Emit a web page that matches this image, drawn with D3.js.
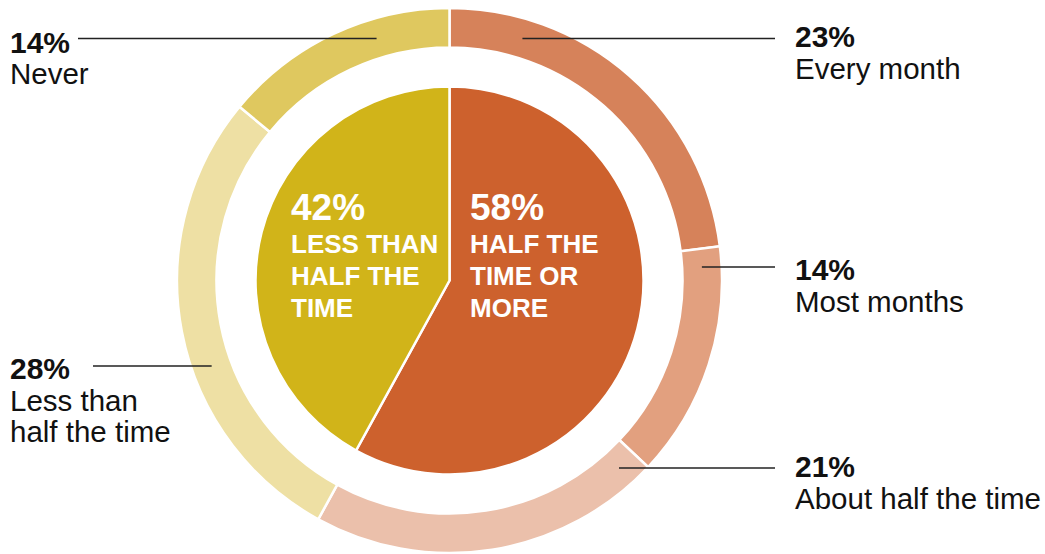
<!DOCTYPE html>
<html><head><meta charset="utf-8">
<script src="https://cdn.jsdelivr.net/npm/d3@7"></script>
<style>
html,body{margin:0;padding:0;background:#fff;}
svg{display:block;font-family:"Liberation Sans",Arial,Helvetica,sans-serif;}
</style></head>
<body><svg id="c" width="1045" height="554"></svg>
<script>
// ---- data ----
const outerCategories = ["Every month","Most months","About half the time","Less than half the time","Never"];
const outerValues = [23,14,21,28,14];
const outerLabelLines = [["Every month"],["Most months"],["About half the time"],["Less than","half the time"],["Never"]];
const innerCategories = ["Half the time or more","Less than half the time"];
const innerValues = [58,42];
const innerLabelLines = [["HALF THE","TIME OR","MORE"],["LESS THAN","HALF THE","TIME"]];

// ---- styles / layout ----
const outerColors = ["#D6825A","#E2A07F","#EBC0AB","#EEE0A4","#DFC85F"];
const innerColors = ["#CD612D","#D1B419"];
const cx = 449.5, cy = 280.5;
const rOuter = 272.5, rOuterIn = 233, rInner = 194;
const rMid = (rOuter + rOuterIn) / 2;
// label placement: side, leader y, leader end x (outer end), text x
const labelLayout = [
  {side:"right", y:38.5, lineEnd:775, tx:795, ty:47},
  {side:"right", y:267, lineEnd:775, tx:795, ty:280},
  {side:"right", y:468, lineEnd:775, tx:795, ty:477},
  {side:"left",  y:366, lineEnd:93,  tx:10,  ty:379},
  {side:"left",  y:38.5, lineEnd:78, tx:10,  ty:52.5}
];
const innerTextLayout = [{tx:470, ty:220},{tx:291, ty:220}];

const svg = d3.select("#c");
const g = svg.append("g").attr("transform", `translate(${cx},${cy})`);

const pie = d3.pie().sort(null).value(d => d);

const outerArc = d3.arc().innerRadius(rOuterIn).outerRadius(rOuter);
g.selectAll("path.outer").data(pie(outerValues)).join("path")
  .attr("class","outer")
  .attr("d", outerArc)
  .attr("fill", (d,i) => outerColors[i])
  .attr("stroke","#fff").attr("stroke-width",2.5);

const innerArc = d3.arc().innerRadius(0).outerRadius(rInner);
g.selectAll("path.inner").data(pie(innerValues)).join("path")
  .attr("class","inner")
  .attr("d", innerArc)
  .attr("fill", (d,i) => innerColors[i])
  .attr("stroke","#fff").attr("stroke-width",2.5);

// leader lines and outer labels
outerValues.forEach((v,i) => {
  const L = labelLayout[i];
  const dy = L.y - cy;
  const dx = Math.sqrt(rMid*rMid - dy*dy);
  const x0 = L.side === "right" ? cx + dx : cx - dx;
  svg.append("line")
    .attr("x1", x0).attr("y1", L.y).attr("x2", L.lineEnd).attr("y2", L.y)
    .attr("stroke","#222").attr("stroke-width",1.5);
  const t = svg.append("text").attr("x", L.tx).attr("y", L.ty).attr("fill","#111");
  t.append("tspan").attr("x", L.tx).attr("font-weight","bold").attr("font-size",30).text(v + "%");
  outerLabelLines[i].forEach(line => {
    t.append("tspan").attr("x", L.tx).attr("dy", 31.5).attr("font-size",29.5).text(line);
  });
});

// inner labels
innerValues.forEach((v,i) => {
  const L = innerTextLayout[i];
  const t = svg.append("text").attr("x", L.tx).attr("y", L.ty).attr("fill","#fff").attr("font-weight","bold");
  t.append("tspan").attr("x", L.tx).attr("font-size",37).text(v + "%");
  innerLabelLines[i].forEach((line,j) => {
    t.append("tspan").attr("x", L.tx).attr("dy", j === 0 ? 32.5 : 32).attr("font-size",26).text(line);
  });
});
</script></body></html>
